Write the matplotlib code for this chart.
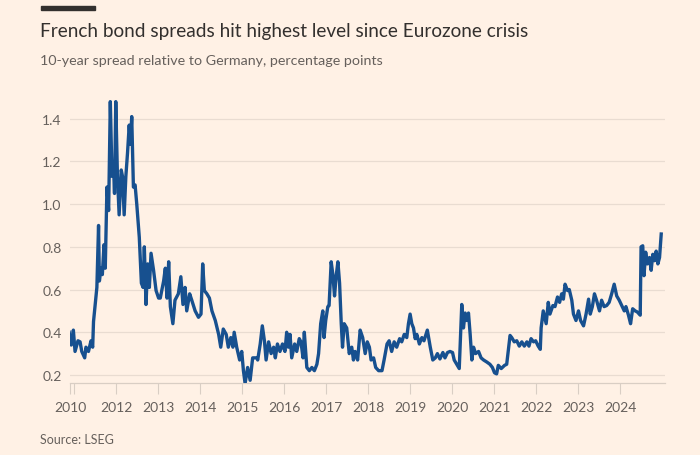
import matplotlib
matplotlib.use("Agg")
import matplotlib.pyplot as plt
from matplotlib.patches import Rectangle

plt.rcParams["font.family"] = ["Lato", "DejaVu Sans"]

# decimal years and spread values (percentage points)
years = [
    2010.88, 2010.93, 2010.98, 2011.02, 2011.09, 2011.14, 2011.18, 2011.25, 2011.28, 2011.34,
    2011.40, 2011.44, 2011.46, 2011.50, 2011.54, 2011.58, 2011.60, 2011.64, 2011.67, 2011.71,
    2011.74, 2011.78, 2011.82, 2011.86, 2011.90, 2011.94, 2011.96, 2011.99, 2012.03, 2012.07,
    2012.12, 2012.15, 2012.19, 2012.23, 2012.27, 2012.31, 2012.34, 2012.37, 2012.41, 2012.45,
    2012.49, 2012.55, 2012.60, 2012.64, 2012.67, 2012.71, 2012.75, 2012.79, 2012.83, 2012.89,
    2012.95, 2013.01, 2013.05, 2013.13, 2013.17, 2013.21, 2013.25, 2013.29, 2013.35, 2013.40,
    2013.48, 2013.54, 2013.59, 2013.64, 2013.68, 2013.75, 2013.80, 2013.88, 2013.96, 2014.02,
    2014.06, 2014.10, 2014.16, 2014.22, 2014.28, 2014.36, 2014.44, 2014.49, 2014.55, 2014.62,
    2014.67, 2014.73, 2014.78, 2014.81, 2014.87, 2014.94, 2014.99, 2015.03, 2015.07, 2015.13,
    2015.19, 2015.25, 2015.35, 2015.37, 2015.43, 2015.48, 2015.53, 2015.57, 2015.63, 2015.69,
    2015.75, 2015.79, 2015.84, 2015.90, 2015.96, 2016.02, 2016.06, 2016.10, 2016.14, 2016.18,
    2016.25, 2016.30, 2016.36, 2016.40, 2016.45, 2016.48, 2016.54, 2016.60, 2016.66, 2016.72,
    2016.78, 2016.82, 2016.87, 2016.92, 2016.95, 2016.99, 2017.04, 2017.07, 2017.12, 2017.16,
    2017.20, 2017.24, 2017.28, 2017.32, 2017.36, 2017.39, 2017.43, 2017.49, 2017.55, 2017.61,
    2017.65, 2017.69, 2017.75, 2017.81, 2017.87, 2017.93, 2017.98, 2018.03, 2018.07, 2018.13,
    2018.18, 2018.25, 2018.33, 2018.38, 2018.45, 2018.50, 2018.56, 2018.62, 2018.68, 2018.75,
    2018.80, 2018.86, 2018.92, 2018.96, 2019.00, 2019.04, 2019.08, 2019.12, 2019.16, 2019.22,
    2019.28, 2019.33, 2019.41, 2019.48, 2019.54, 2019.60, 2019.65, 2019.71, 2019.78, 2019.83,
    2019.89, 2019.95, 2020.01, 2020.05, 2020.11, 2020.17, 2020.23, 2020.27, 2020.31, 2020.35,
    2020.39, 2020.43, 2020.47, 2020.51, 2020.56, 2020.63, 2020.69, 2020.75, 2020.83, 2020.90,
    2020.96, 2021.01, 2021.06, 2021.10, 2021.17, 2021.25, 2021.30, 2021.38, 2021.42, 2021.48,
    2021.54, 2021.60, 2021.66, 2021.72, 2021.78, 2021.83, 2021.88, 2021.94, 2021.99, 2022.05,
    2022.10, 2022.12, 2022.17, 2022.24, 2022.29, 2022.33, 2022.40, 2022.45, 2022.51, 2022.56,
    2022.61, 2022.65, 2022.69, 2022.75, 2022.79, 2022.85, 2022.89, 2022.95, 2023.01, 2023.06,
    2023.13, 2023.19, 2023.25, 2023.29, 2023.34, 2023.39, 2023.44, 2023.51, 2023.56, 2023.62,
    2023.68, 2023.74, 2023.80, 2023.86, 2023.92, 2023.98, 2024.04, 2024.10, 2024.14, 2024.20,
    2024.25, 2024.30, 2024.36, 2024.41, 2024.48, 2024.50, 2024.54, 2024.57, 2024.61, 2024.65,
    2024.70, 2024.74, 2024.78, 2024.82, 2024.86, 2024.90, 2024.94, 2024.98,
]
spread = [
    0.40, 0.34, 0.41, 0.31, 0.36, 0.355, 0.31, 0.28, 0.33, 0.31,
    0.36, 0.33, 0.45, 0.53, 0.61, 0.90, 0.64, 0.70, 0.67, 0.81,
    0.70, 1.08, 0.97, 1.48, 1.13, 1.16, 1.05, 1.48, 1.13, 0.95,
    1.16, 1.13, 0.95, 1.13, 1.24, 1.37, 1.28, 1.41, 1.08, 1.09,
    1.00, 0.845, 0.63, 0.61, 0.80, 0.53, 0.72, 0.61, 0.77, 0.69,
    0.595, 0.56, 0.56, 0.64, 0.70, 0.56, 0.73, 0.52, 0.44, 0.55,
    0.58, 0.66, 0.53, 0.61, 0.50, 0.58, 0.55, 0.50, 0.47, 0.485,
    0.72, 0.595, 0.58, 0.56, 0.50, 0.455, 0.39, 0.33, 0.415, 0.39,
    0.33, 0.375, 0.33, 0.40, 0.33, 0.27, 0.31, 0.22, 0.16, 0.235,
    0.175, 0.28, 0.28, 0.27, 0.345, 0.43, 0.36, 0.27, 0.355, 0.30,
    0.33, 0.28, 0.345, 0.31, 0.345, 0.31, 0.40, 0.33, 0.39, 0.28,
    0.345, 0.31, 0.37, 0.355, 0.28, 0.40, 0.235, 0.22, 0.235, 0.22,
    0.25, 0.30, 0.44, 0.50, 0.375, 0.455, 0.52, 0.525, 0.73, 0.67,
    0.57, 0.665, 0.73, 0.63, 0.44, 0.33, 0.44, 0.42, 0.30, 0.33,
    0.27, 0.31, 0.27, 0.41, 0.375, 0.30, 0.355, 0.33, 0.27, 0.28,
    0.235, 0.22, 0.22, 0.27, 0.345, 0.36, 0.31, 0.355, 0.33, 0.37,
    0.355, 0.39, 0.375, 0.44, 0.485, 0.44, 0.42, 0.37, 0.39, 0.345,
    0.375, 0.36, 0.41, 0.33, 0.27, 0.28, 0.30, 0.275, 0.305, 0.28,
    0.305, 0.31, 0.305, 0.27, 0.25, 0.23, 0.53, 0.42, 0.49, 0.455,
    0.49, 0.39, 0.27, 0.33, 0.30, 0.31, 0.28, 0.27, 0.26, 0.25,
    0.235, 0.21, 0.205, 0.245, 0.23, 0.245, 0.25, 0.385, 0.375, 0.355,
    0.36, 0.335, 0.355, 0.335, 0.355, 0.335, 0.37, 0.355, 0.36, 0.335,
    0.32, 0.42, 0.50, 0.44, 0.54, 0.485, 0.525, 0.52, 0.565, 0.54,
    0.58, 0.555, 0.625, 0.595, 0.60, 0.55, 0.485, 0.455, 0.50, 0.455,
    0.43, 0.485, 0.555, 0.485, 0.52, 0.58, 0.55, 0.50, 0.55, 0.52,
    0.525, 0.54, 0.58, 0.625, 0.57, 0.55, 0.525, 0.50, 0.52, 0.48,
    0.44, 0.51, 0.50, 0.495, 0.48, 0.80, 0.805, 0.665, 0.775, 0.72,
    0.75, 0.69, 0.765, 0.735, 0.78, 0.72, 0.75, 0.86,
]

y_ticks = [0.2, 0.4, 0.6, 0.8, 1.0, 1.2, 1.4]
x_ticks = [2010.9, 2011, 2012, 2013, 2014, 2015, 2016, 2017, 2018, 2019, 2020, 2021, 2022, 2023, 2024]
x_labels = ["2010", "", "2012", "2013", "2014", "2015", "2016", "2017", "2018", "2019",
            "2020", "2021", "2022", "2023", "2024"]

bg = "#FFF1E5"
grey = "#66605C"

fig = plt.figure(figsize=(7, 4.56), dpi=100, facecolor=bg)
ax = fig.add_axes([0.1, 0.158, 0.85, 0.623], facecolor=bg)

ax.plot(years, spread, color="#17508F", lw=2.4, solid_joinstyle="round", zorder=3)

ax.set_xlim(2010.9, 2025.07)
ax.set_ylim(0.1625, 1.493)

ax.set_yticks(y_ticks)
ax.set_yticklabels([f"{t:.1f}" for t in y_ticks])
ax.set_xticks(x_ticks)
ax.set_xticklabels(x_labels)
ax.grid(axis="y", color="#E9DCD1", lw=0.9)
ax.set_axisbelow(True)

for s in ["top", "right", "left"]:
    ax.spines[s].set_visible(False)
ax.spines["bottom"].set_color("#D9CEC4")
ax.spines["bottom"].set_linewidth(0.9)

ax.tick_params(axis="y", length=0, pad=6, labelsize=10, labelcolor=grey)
ax.tick_params(axis="x", length=8, width=0.8, color="#D9CEC4", pad=5, labelsize=10, labelcolor=grey)

# headline block
fig.add_artist(Rectangle((41 / 700, 1 - 11 / 456), 54 / 700, 4 / 456,
                         transform=fig.transFigure, color="#33302E"))
fig.text(40 / 700, 1 - 37 / 456, "French bond spreads hit highest level since Eurozone crisis",
         fontsize=13.7, color="#33302E", va="baseline", ha="left")
fig.text(40 / 700, 1 - 65 / 456, "10-year spread relative to Germany, percentage points",
         fontsize=10.3, color=grey, va="baseline", ha="left")
fig.text(40 / 700, 1 - 444 / 456, "Source: LSEG",
         fontsize=9, color=grey, va="baseline", ha="left")

fig.savefig("out.png", dpi=100, facecolor=bg)
